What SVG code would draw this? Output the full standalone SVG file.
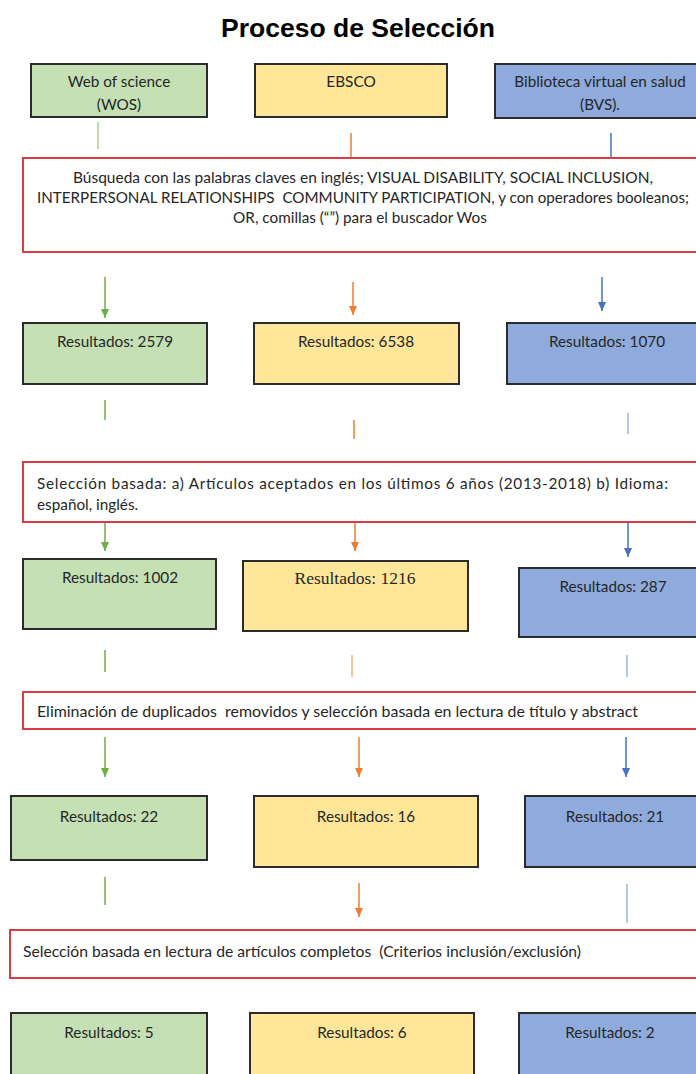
<svg xmlns="http://www.w3.org/2000/svg" width="696" height="1074" viewBox="0 0 696 1074">
<defs>
<style>
.title{font-family:"Liberation Sans",Arial,sans-serif;font-weight:bold;font-size:26.5px;fill:#000;}
.t{font-family:Lato,"Open Sans",sans-serif;font-size:15.3px;fill:#262626;}
.ts{font-family:"Liberation Serif","Times New Roman",serif;font-size:17.5px;fill:#262626;}
.c{text-anchor:middle;}
.box{stroke:#2b2b2b;stroke-width:2;}
.g{fill:#C5E0B4;}
.y{fill:#FFE699;}
.b{fill:#8FAADC;}
.red{fill:#fff;stroke:#DC3B45;stroke-width:2;}
.lg{stroke:#70AD47;stroke-width:1.5;fill:none;}
.lg2{stroke:#A9D18E;stroke-width:1.5;fill:none;}
.lo{stroke:#ED7D31;stroke-width:1.5;fill:none;}
.lo2{stroke:#F4B183;stroke-width:1.5;fill:none;}
.lb{stroke:#4472C4;stroke-width:1.5;fill:none;}
.lb2{stroke:#9DB5E3;stroke-width:1.5;fill:none;}
</style>
<marker id="ag" markerUnits="userSpaceOnUse" markerWidth="10" markerHeight="10" viewBox="0 0 10 10" refX="9" refY="5" orient="auto"><path d="M0,1 L9,5 L0,9 z" fill="#70AD47"/></marker>
<marker id="ao" markerUnits="userSpaceOnUse" markerWidth="10" markerHeight="10" viewBox="0 0 10 10" refX="9" refY="5" orient="auto"><path d="M0,1 L9,5 L0,9 z" fill="#ED7D31"/></marker>
<marker id="ab" markerUnits="userSpaceOnUse" markerWidth="10" markerHeight="10" viewBox="0 0 10 10" refX="9" refY="5" orient="auto"><path d="M0,1 L9,5 L0,9 z" fill="#4472C4"/></marker>
</defs>
<rect width="696" height="1074" fill="#fff"/>
<text class="title c" x="358" y="37">Proceso de Selección</text>

<g id="connectors">
<line class="lg2" x1="98" y1="122" x2="98" y2="149"/>
<line class="lo" x1="351" y1="133" x2="351" y2="158"/>
<line class="lb" x1="611" y1="133" x2="611" y2="159"/>
<line class="lg" x1="105" y1="277" x2="105" y2="318" marker-end="url(#ag)"/>
<line class="lo" x1="353" y1="282" x2="353" y2="315" marker-end="url(#ao)"/>
<line class="lb" x1="602" y1="277" x2="602" y2="311" marker-end="url(#ab)"/>
<line class="lg" x1="105" y1="400" x2="105" y2="420"/>
<line class="lo" x1="354" y1="420" x2="354" y2="439"/>
<line class="lb2" x1="628" y1="413" x2="628" y2="434"/>
<line class="lg" x1="105" y1="523" x2="105" y2="551" marker-end="url(#ag)"/>
<line class="lo" x1="355" y1="523" x2="355" y2="551" marker-end="url(#ao)"/>
<line class="lb" x1="628" y1="523" x2="628" y2="557" marker-end="url(#ab)"/>
<line class="lg" x1="105" y1="650" x2="105" y2="672"/>
<line class="lo2" x1="352" y1="655" x2="352" y2="677"/>
<line class="lb2" x1="627" y1="655" x2="627" y2="677"/>
<line class="lg" x1="105" y1="737" x2="105" y2="777" marker-end="url(#ag)"/>
<line class="lo" x1="359" y1="737" x2="359" y2="777" marker-end="url(#ao)"/>
<line class="lb" x1="626" y1="737" x2="626" y2="777" marker-end="url(#ab)"/>
<line class="lg" x1="105" y1="877" x2="105" y2="905"/>
<line class="lo" x1="359" y1="883" x2="359" y2="917" marker-end="url(#ao)"/>
<line class="lb2" x1="627" y1="884" x2="627" y2="923"/>
</g>

<g id="wos">
<rect class="box g" x="31" y="64" width="176" height="53"/>
<text class="t c" x="119" y="87">Web of science</text>
<text class="t c" x="119" y="110">(WOS)</text>
</g>
<g id="ebsco">
<rect class="box y" x="255" y="64" width="192" height="53"/>
<text class="t c" x="351" y="87">EBSCO</text>
</g>
<g id="bvs">
<rect class="box b" x="495" y="64" width="215" height="54"/>
<text class="t c" x="600" y="87">Biblioteca virtual en salud</text>
<text class="t c" x="600" y="110">(BVS).</text>
</g>

<g id="busqueda">
<rect class="red" x="23" y="158" width="690" height="94"/>
<text class="t c" x="363" y="183" textLength="580" lengthAdjust="spacingAndGlyphs">Búsqueda con las palabras claves en inglés; VISUAL DISABILITY, SOCIAL INCLUSION,</text>
<text class="t c" x="363" y="203" textLength="652" lengthAdjust="spacingAndGlyphs" xml:space="preserve">INTERPERSONAL RELATIONSHIPS  COMMUNITY PARTICIPATION, y con operadores booleanos;</text>
<text class="t c" x="360" y="223">OR, comillas (“”) para el buscador Wos</text>
</g>

<g id="r1-wos"><rect class="box g" x="23" y="323" width="184" height="61"/><text class="t c" x="115" y="347">Resultados: 2579</text></g>
<g id="r1-ebsco"><rect class="box y" x="254" y="323" width="205" height="61"/><text class="t c" x="356" y="347">Resultados: 6538</text></g>
<g id="r1-bvs"><rect class="box b" x="507" y="323" width="200" height="61"/><text class="t c" x="607" y="347">Resultados: 1070</text></g>

<g id="seleccion1">
<rect class="red" x="23" y="462" width="690" height="60"/>
<text class="t" x="37" y="489" textLength="631" lengthAdjust="spacing">Selección basada: a) Artículos aceptados en los últimos 6 años (2013-2018) b) Idioma:</text>
<text class="t" x="37" y="510">español, inglés.</text>
</g>

<g id="r2-wos"><rect class="box g" x="23" y="559" width="193" height="70"/><text class="t c" x="120" y="583">Resultados: 1002</text></g>
<g id="r2-ebsco"><rect class="box y" x="243" y="561" width="225" height="70"/><text class="ts c" x="355" y="584">Resultados: 1216</text></g>
<g id="r2-bvs"><rect class="box b" x="519" y="568" width="200" height="69"/><text class="t c" x="613" y="592">Resultados: 287</text></g>

<g id="eliminacion">
<rect class="red" x="23" y="692" width="690" height="37"/>
<text class="t" x="37" y="717" textLength="601" lengthAdjust="spacingAndGlyphs" xml:space="preserve">Eliminación de duplicados  removidos y selección basada en lectura de título y abstract</text>
</g>

<g id="r3-wos"><rect class="box g" x="11" y="796" width="196" height="64"/><text class="t c" x="109" y="822">Resultados: 22</text></g>
<g id="r3-ebsco"><rect class="box y" x="254" y="796" width="224" height="71"/><text class="t c" x="366" y="822">Resultados: 16</text></g>
<g id="r3-bvs"><rect class="box b" x="525" y="796" width="190" height="71"/><text class="t c" x="615" y="822">Resultados: 21</text></g>

<g id="completos">
<rect class="red" x="10" y="930" width="700" height="48"/>
<text class="t" x="23" y="957" textLength="558" lengthAdjust="spacingAndGlyphs" xml:space="preserve">Selección basada en lectura de artículos completos  (Criterios inclusión/exclusión)</text>
</g>

<g id="r4-wos"><rect class="box g" x="11" y="1013" width="196" height="80"/><text class="t c" x="109" y="1038">Resultados: 5</text></g>
<g id="r4-ebsco"><rect class="box y" x="250" y="1013" width="224" height="80"/><text class="t c" x="362" y="1038">Resultados: 6</text></g>
<g id="r4-bvs"><rect class="box b" x="519" y="1013" width="200" height="80"/><text class="t c" x="610" y="1038">Resultados: 2</text></g>
</svg>
